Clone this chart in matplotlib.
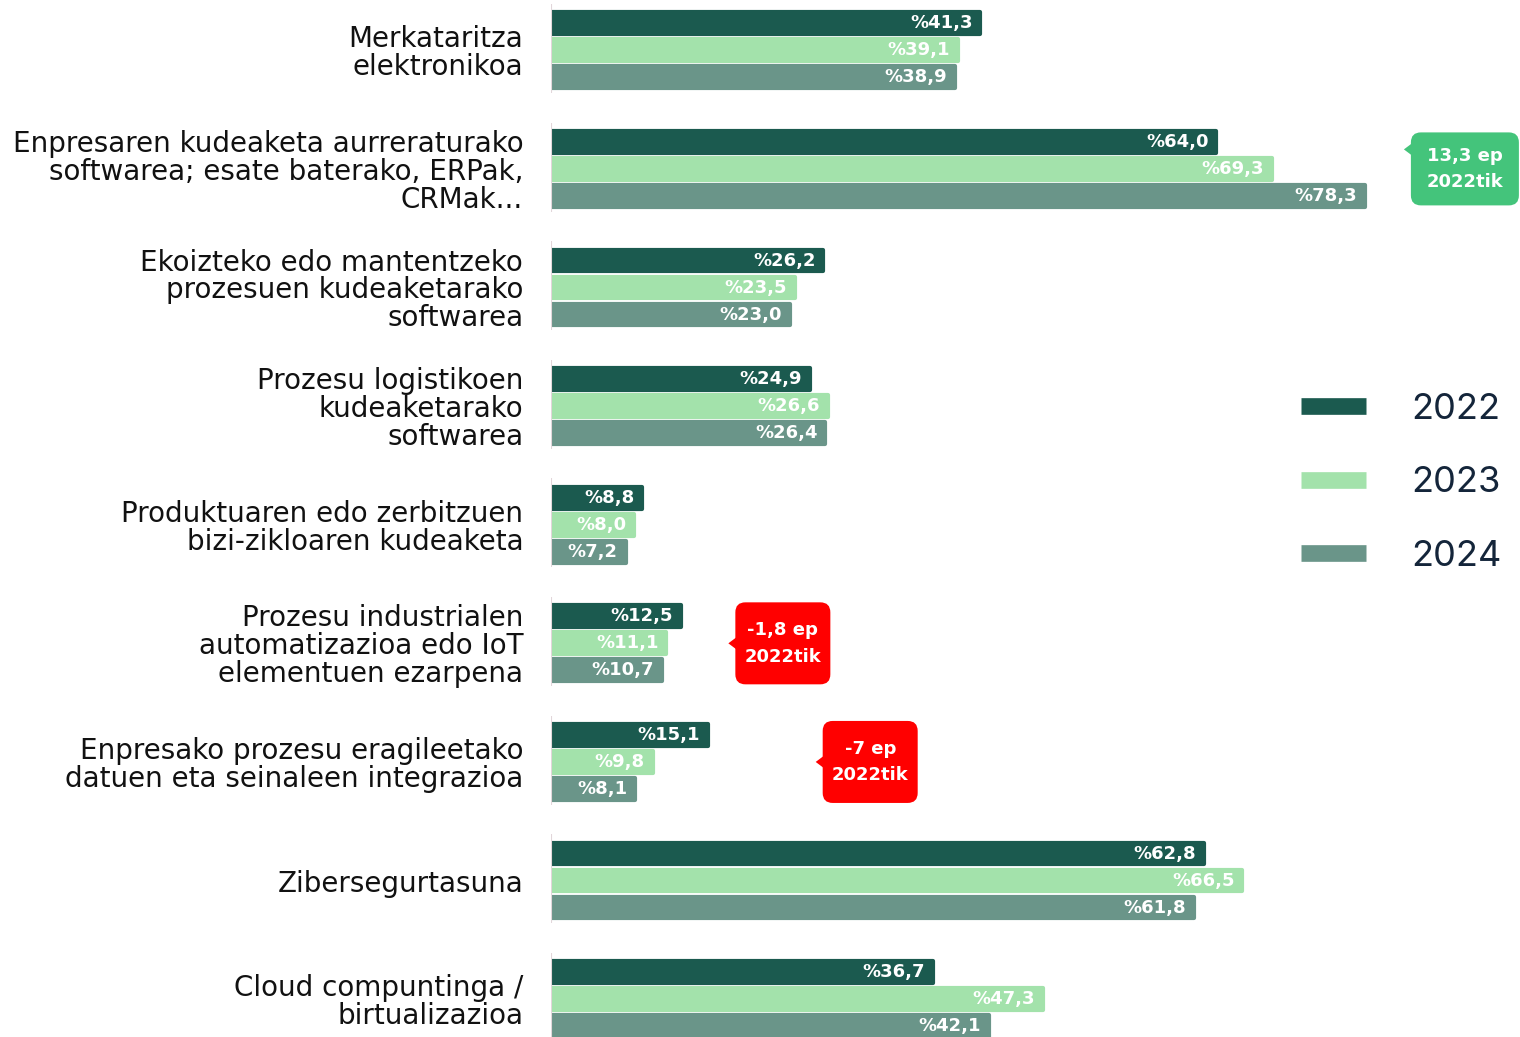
import numpy as np
import matplotlib
matplotlib.use("Agg")
import matplotlib.pyplot as plt
from matplotlib.lines import Line2D
from matplotlib.patches import FancyBboxPatch, Polygon
from matplotlib.transforms import ScaledTranslation

plt.rcParams['font.family'] = ['Inter', 'DejaVu Sans']

# Data
categories = [
    "Merkataritza\nelektronikoa",
    "Enpresaren kudeaketa aurreraturako\nsoftwarea; esate baterako, ERPak,\nCRMak...",
    "Ekoizteko edo mantentzeko\nprozesuen kudeaketarako\nsoftwarea",
    "Prozesu logistikoen\nkudeaketarako\nsoftwarea",
    "Produktuaren edo zerbitzuen\nbizi-zikloaren kudeaketa",
    "Prozesu industrialen\nautomatizazioa edo IoT\nelementuen ezarpena",
    "Enpresako prozesu eragileetako\ndatuen eta seinaleen integrazioa",
    "Zibersegurtasuna",
    "Cloud compuntinga /\nbirtualizazioa",
]
years = ["2022", "2023", "2024"]
v2022 = [41.3, 64.0, 26.2, 24.9, 8.8, 12.5, 15.1, 62.8, 36.7]
v2023 = [39.1, 69.3, 23.5, 26.6, 8.0, 11.1, 9.8, 66.5, 47.3]
v2024 = [38.9, 78.3, 23.0, 26.4, 7.2, 10.7, 8.1, 61.8, 42.1]

# callouts: category index, text
callout_cat = [1, 5, 6]
callout_text = ["13,3 ep\n2022tik", "-1,8 ep\n2022tik", "-7 ep\n2022tik"]

colors = ["#1b5a4f", "#a3e2ab", "#6a9589"]
wide = ['DejaVu Sans']

fig = plt.figure(figsize=(15.2, 10.37), dpi=100)
ax = fig.add_axes([551 / 1520, 0, 969 / 1520, 1])

y = np.arange(len(categories))
pitch = 0.2277
bar_h = 0.184
for i, vals in enumerate([v2022, v2023, v2024]):
    pos = y + (i - 1) * pitch
    bars = ax.barh(pos, vals, height=bar_h, color=colors[i], edgecolor=colors[i],
                   linewidth=3, zorder=2)
    for b in bars:
        b.set_joinstyle('round')
    for p, v in zip(pos, vals):
        ax.annotate("%" + f"{v:.1f}".replace(".", ","), (v, p), xytext=(-8, 0),
                    textcoords='offset pixels', ha='right', va='center',
                    color='white', fontsize=13, fontweight='bold', family=wide,
                    zorder=3)

# thin divider next to each group
ax.vlines(np.zeros(len(y)), y - 0.39, y + 0.36, color="#e2d6da", lw=1.5, zorder=4)

ax.set_xlim(0, 93.2)
ax.set_ylim(8.319, -0.424)
ax.set_yticks(y)
ax.set_yticklabels(categories, fontsize=20, color="#111111", linespacing=0.99,
                   family=wide)
ax.tick_params(axis='y', length=0, pad=20)
ax.set_xticks([])
for s in ax.spines.values():
    s.set_visible(False)

# callouts (sizes in inches relative to a data anchor)
box_x = [87.9, 22.3, 30.7]
box_size = [(1.08, 0.73), (0.95, 0.82), (0.95, 0.82)]
box_color = ["#44c47b", "#ff0000", "#ff0000"]
tip_dy = [0.195, 0.0, 0.0]
for k in range(3):
    cx, cy = box_x[k], y[callout_cat[k]]
    w, h = box_size[k]
    tr = fig.dpi_scale_trans + ScaledTranslation(cx, cy, ax.transData)
    ax.add_patch(FancyBboxPatch((-w / 2, -h / 2), w, h,
                                boxstyle="round,pad=0,rounding_size=0.1",
                                transform=tr, fc=box_color[k], ec='none',
                                zorder=5, clip_on=False))
    ty = tip_dy[k]
    ax.add_patch(Polygon([(-w / 2 + 0.01, ty + 0.06), (-w / 2 - 0.07, ty),
                          (-w / 2 + 0.01, ty - 0.06)], closed=True,
                         transform=tr, fc=box_color[k], ec='none', zorder=5,
                         clip_on=False))
    ax.text(0, 0, callout_text[k], transform=tr, ha='center', va='center',
            color='white', fontsize=13, fontweight='bold', linespacing=1.6,
            family=wide, zorder=6)

handles = [Line2D([], [], color=c, lw=12, solid_capstyle='butt') for c in colors]
fig.legend(handles, years, loc='center left', bbox_to_anchor=(1301 / 1520, 1 - 483 / 1037),
           bbox_transform=fig.transFigure, frameon=False, fontsize=26,
           labelcolor="#14253a", handlelength=1.8, handletextpad=1.25,
           labelspacing=1.12, borderpad=0, borderaxespad=0)

fig.savefig("out.png", dpi=100, facecolor='white')
